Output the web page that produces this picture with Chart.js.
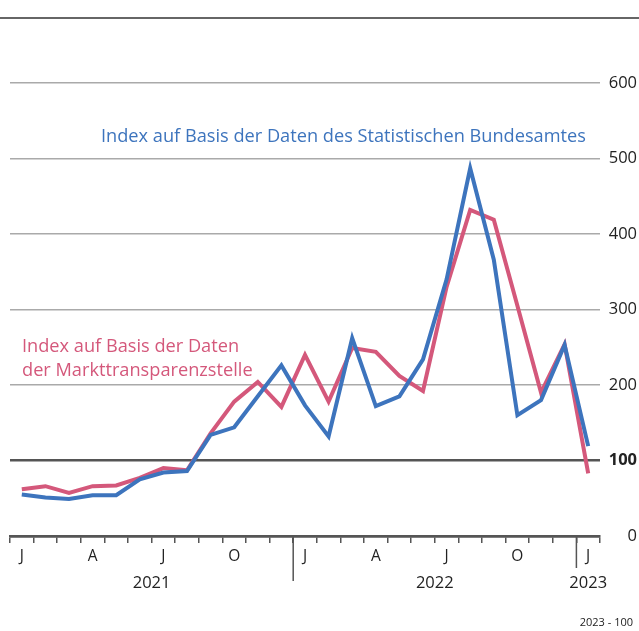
<!DOCTYPE html>
<html>
<head>
<meta charset="utf-8">
<script src="https://cdn.jsdelivr.net/npm/chart.js@4"></script>
<style>
  html, body { margin: 0; padding: 0; background: #fff; }
  #wrap { position: relative; width: 639px; height: 631px; }
  #topline { position: absolute; left: 0; top: 17px; width: 639px; height: 2px; background: #666; }
  canvas { position: absolute; left: 0; top: 0; }
</style>
</head>
<body>
<div id="wrap">
  <div id="topline"></div>
  <canvas id="c" width="639" height="631"></canvas>
</div>
<script>
// Months Jan 2021 .. Jan 2023
const monthLabels = ['J','F','M','A','M','J','J','A','S','O','N','D',
                     'J','F','M','A','M','J','J','A','S','O','N','D',
                     'J'];
const years = ['2021','2022','2023'];
const yearStartIndex = [0, 12, 24];
const yearEndIndex = [11, 23, 24];

const destatisValues = [55,51,49,54,54,75,84,86,134,144,185,226,
                        173,132,262,172,185,234,340,487,366,160,180,253,
                        119];
const mtsValues = [62,66,57,66,67,77,90,87,136,178,204,171,
                   240,178,249,244,212,192,330,432,419,305,190,254,
                   83];
const yTicks = [0,100,200,300,400,500,600];

const destatisLabel = ['Index auf Basis der Daten des Statistischen Bundesamtes'];
const mtsLabel = ['Index auf Basis der Daten', 'der Markttransparenzstelle'];
const footer = '2023 - 100';

const BLUE = '#3d74bd';
const RED = '#d4587b';
const FONT = '"Open Sans", "DejaVu Sans", sans-serif';

const annotations = {
  id: 'annotations',
  afterDraw(chart) {
    const ctx = chart.ctx;
    const x = chart.scales.x;
    const area = chart.chartArea;
    ctx.save();
    // year dividers
    ctx.strokeStyle = '#555';
    ctx.lineWidth = 1.5;
    const dividers = [[11, 581], [23, 568]];
    dividers.forEach(([i, yEnd]) => {
      const px = (x.getPixelForValue(i) + x.getPixelForValue(i + 1)) / 2;
      ctx.beginPath();
      ctx.moveTo(px, area.bottom);
      ctx.lineTo(px, yEnd);
      ctx.stroke();
    });
    // year labels
    ctx.fillStyle = '#222';
    ctx.font = '16.5px ' + FONT;
    ctx.textAlign = 'center';
    ctx.textBaseline = 'middle';
    years.forEach((yr, k) => {
      const px = (x.getPixelForValue(yearStartIndex[k]) + x.getPixelForValue(yearEndIndex[k])) / 2;
      ctx.fillText(yr, px, 583);
    });
    // series labels
    ctx.textAlign = 'left';
    ctx.font = '18.2px ' + FONT;
    ctx.fillStyle = BLUE;
    destatisLabel.forEach((t, i) => ctx.fillText(t, 101, 137 + i * 24));
    ctx.fillStyle = RED;
    mtsLabel.forEach((t, i) => ctx.fillText(t, 22, 347 + i * 24));
    // footer
    ctx.fillStyle = '#222';
    ctx.font = '11px ' + FONT;
    ctx.textAlign = 'right';
    ctx.fillText(footer, 633, 623);
    ctx.restore();
  }
};

new Chart(document.getElementById('c'), {
  type: 'line',
  data: {
    labels: monthLabels,
    datasets: [
      { label: 'Statistisches Bundesamt', data: destatisValues, borderColor: BLUE,
        borderWidth: 4, pointRadius: 0, tension: 0, fill: false },
      { label: 'Markttransparenzstelle', data: mtsValues, borderColor: RED,
        borderWidth: 4, pointRadius: 0, tension: 0, fill: false }
    ]
  },
  options: {
    responsive: false,
    animation: false,
    events: [],
    layout: { padding: { left: 10, right: 2, top: 83, bottom: 0 } },
    plugins: { legend: { display: false }, tooltip: { enabled: false } },
    scales: {
      x: {
        type: 'category',
        offset: true,
        afterFit(s) { s.height = 95; },
        grid: { offset: true, drawOnChartArea: false, drawTicks: true, tickLength: 7,
                color: '#555', lineWidth: 1.5 },
        border: { display: true, color: '#555', width: 2.5 },
        ticks: {
          autoSkip: false, maxRotation: 0, padding: 4,
          color: '#222', font: { family: FONT, size: 15.5 },
          callback(v, i) { return i % 3 === 0 ? monthLabels[i] : ''; }
        }
      },
      y: {
        position: 'right',
        min: 0, max: 600,
        afterFit(s) { s.width = 37; },
        afterBuildTicks(s) { s.ticks = yTicks.map(v => ({ value: v })); },
        border: { display: false },
        grid: {
          drawTicks: false,
          color: c => (c.tick && (c.tick.value === 100 || c.tick.value === 0)) ? '#555' : '#aaa',
          lineWidth: c => (c.tick && (c.tick.value === 100 || c.tick.value === 0)) ? 2.5 : 1.5
        },
        ticks: {
          crossAlign: 'far', padding: 6, color: '#222',
          font: c => ({ family: FONT, size: 16.5, weight: (c.tick && c.tick.value === 100) ? 'bold' : 'normal' })
        }
      }
    }
  },
  plugins: [annotations]
});
</script>
</body>
</html>
